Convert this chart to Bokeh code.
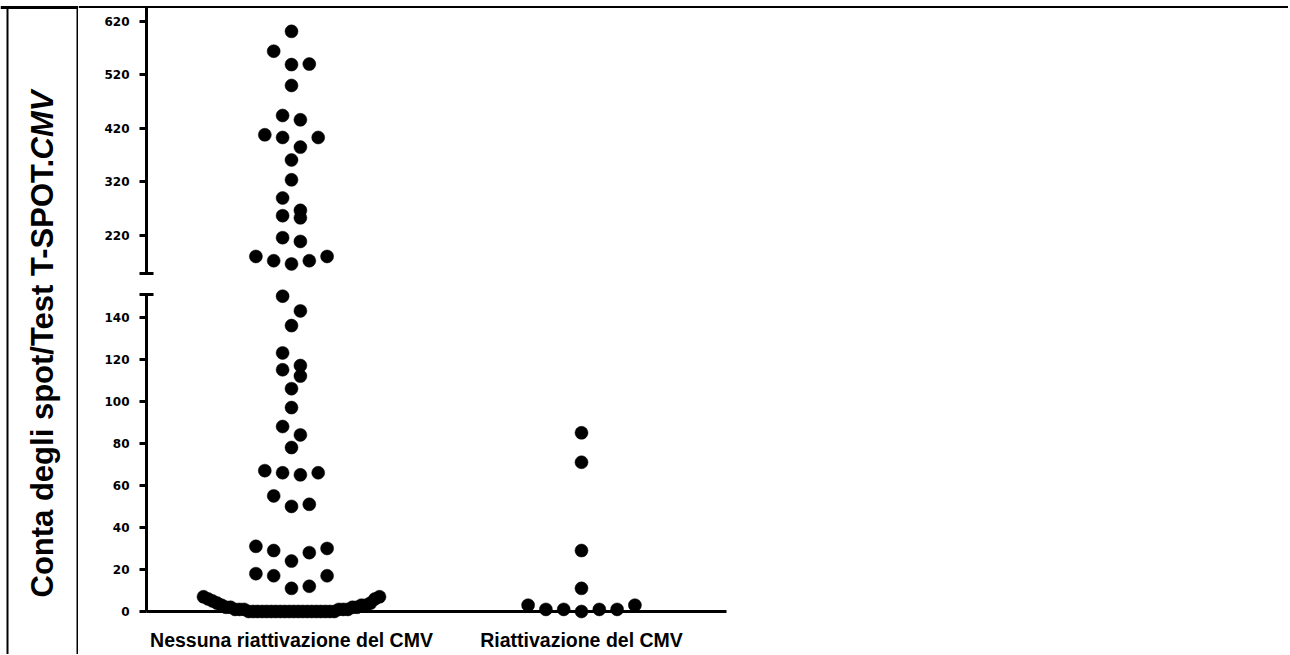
import math
from bokeh.plotting import figure
from bokeh.models import (Range1d, LinearAxis, FixedTicker, Span, Label,
                          ColumnDataSource, BoxAnnotation)
from bokeh.layouts import row, column
from bokeh.embed import file_html
from bokeh.resources import INLINE

# ---------------- data ----------------
CATEGORIES = ["Nessuna riattivazione del CMV", "Riattivazione del CMV"]

NO_REACTIVATION = [
    601, 564, 540, 539, 500, 444, 436, 408, 403, 403, 385, 361, 324, 290,
    267, 257, 253, 216, 209, 181, 181, 173, 173, 167,
    150, 143, 136, 123, 117, 115, 112, 106, 97, 88, 84, 78, 67, 66, 66, 65,
    55, 51, 50, 31, 30, 29, 28, 24, 18, 17, 17, 12, 11,
    7, 7, 6, 6, 5, 4, 4, 3, 3, 3, 2, 2, 2, 2, 1, 1, 1, 1, 1, 1,
    0, 0, 0, 0, 0, 0, 0, 0, 0, 0, 0, 0, 0, 0, 0, 0, 0, 0, 0, 0,
]
REACTIVATION = [85, 71, 29, 11, 3, 3, 1, 1, 1, 1, 0]

Y_TICKS_LOW = [0, 20, 40, 60, 80, 100, 120, 140]
Y_TICKS_HIGH = [220, 320, 420, 520, 620]
LOW_MAX = 150          # values above this are drawn in the upper segment
LOW_SEG_END = 151      # broken-axis segment ends
HIGH_SEG_START = 149
HIGH_SEG_END = 648

Y_LABEL_MAIN = "Conta degli spot/Test T-SPOT."
Y_LABEL_ITALIC = "CMV"

# ---------------- layout ----------------
LABEL_W = 78
CHART_W = 1210
TOTAL_H = 654
UP_H = 283
LO_H = TOTAL_H - UP_H

X_RANGE = (0.26552, 4.43793)
UP_RANGE = (130.5, 658.6)
LO_RANGE = (-20.46, 156.04)

X_PPU = CHART_W / (X_RANGE[1] - X_RANGE[0])
UP_PPU = UP_H / (UP_RANGE[1] - UP_RANGE[0])
LO_PPU = LO_H / (LO_RANGE[1] - LO_RANGE[0])

DOT = 13
STEP_PX = 17.8
BIN_PX = 16
MAX_HALF_PX = 88


def seg(v):
    return v > LOW_MAX


def px(v):
    return v * (UP_PPU if seg(v) else LO_PPU)


def swarm(values, center):
    vals = sorted(values, reverse=True)
    xs, ys = [], []
    i = 0
    while i < len(vals):
        j = i + 1
        while (j < len(vals) and seg(vals[j]) == seg(vals[i])
               and px(vals[i]) - px(vals[j]) < BIN_PX):
            j += 1
        grp = vals[i:j]
        n = len(grp)
        step = STEP_PX if n < 2 else min(STEP_PX, 2 * MAX_HALF_PX / (n - 1))
        slots = [(k - (n - 1) / 2) * step for k in range(n)]
        order = []
        lo, hi = 0, n - 1
        while lo <= hi:
            order.append(lo)
            if hi != lo:
                order.append(hi)
            lo += 1
            hi -= 1
        for v, s in zip(grp, order):
            xs.append(center + slots[s] / X_PPU)
            ys.append(v)
        i = j
    return xs, ys


x1, y1 = swarm(NO_REACTIVATION, 1)
x2, y2 = swarm(REACTIVATION, 2)
xs = x1 + x2
ys = y1 + y2

up_src = ColumnDataSource(dict(x=[x for x, y in zip(xs, ys) if seg(y)],
                               y=[y for y in ys if seg(y)]))
lo_src = ColumnDataSource(dict(x=[x for x, y in zip(xs, ys) if not seg(y)],
                               y=[y for y in ys if not seg(y)]))

TICK_FONT = "DejaVu Sans"


def base_fig(w, h, xr, yr):
    p = figure(width=w, height=h, x_range=Range1d(*xr), y_range=Range1d(*yr),
               x_axis_type=None, y_axis_type=None, toolbar_location=None,
               output_backend="svg", min_border=0)
    p.outline_line_color = None
    p.background_fill_color = "white"
    p.border_fill_color = "white"
    return p


def style_y(ax):
    ax.axis_line_width = 3
    ax.major_tick_line_width = 3
    ax.major_tick_out = 7
    ax.major_tick_in = 0
    ax.minor_tick_line_color = None
    ax.major_label_text_font = TICK_FONT
    ax.major_label_text_font_style = "bold"
    ax.major_label_text_font_size = "12px"
    ax.major_label_text_color = "black"
    ax.major_label_standoff = 10


def cap_axis(loc):
    cap = LinearAxis(fixed_location=0.5, ticker=FixedTicker(ticks=[loc]),
                     major_label_overrides={loc: ""})
    cap.axis_line_color = None
    cap.major_tick_in = 7
    cap.major_tick_out = 7
    cap.major_tick_line_width = 3
    cap.minor_tick_line_color = None
    return cap


TOP_LINE = TOTAL_H - 7   # border line position inside the label cell

# ---- label cell ----
L = base_fig(LABEL_W, TOTAL_H, (0, LABEL_W), (0, TOTAL_H))
L.add_layout(BoxAnnotation(left=7, right=77, top=TOP_LINE, bottom=-30,
                           fill_color=None, fill_alpha=0,
                           line_color="black", line_alpha=1.0, line_width=2))
L.add_layout(Span(location=TOP_LINE, dimension="width", line_color="black",
                  line_alpha=1.0, line_width=3))
LBL_SIZE = 31
main_w = 14.13 * LBL_SIZE
L.add_layout(Label(x=42, y=57, text=Y_LABEL_MAIN, angle=math.pi / 2,
                   text_font="Liberation Sans", text_font_style="bold",
                   text_font_size=f"{LBL_SIZE}px", text_align="left",
                   text_baseline="alphabetic", text_color="black"))
L.add_layout(Label(x=42, y=57 + main_w, text=Y_LABEL_ITALIC, angle=math.pi / 2,
                   text_font="Liberation Sans", text_font_style="bold italic",
                   text_font_size=f"{LBL_SIZE}px", text_align="left",
                   text_baseline="alphabetic", text_color="black"))

# ---- upper segment ----
U = base_fig(CHART_W, UP_H, X_RANGE, UP_RANGE)
U.add_layout(Span(location=UP_RANGE[1] - 6.5 / UP_PPU, dimension="width",
                  line_color="black", line_width=2))
yu = LinearAxis(fixed_location=0.5, ticker=FixedTicker(ticks=Y_TICKS_HIGH),
                bounds=(HIGH_SEG_START, HIGH_SEG_END))
style_y(yu)
U.add_layout(yu, "left")
U.add_layout(cap_axis(HIGH_SEG_START), "left")
U.scatter("x", "y", source=up_src, size=DOT, fill_color="black", line_color="black", line_width=0.5)

# ---- lower segment ----
D = base_fig(CHART_W, LO_H, X_RANGE, LO_RANGE)
yl = LinearAxis(fixed_location=0.5, ticker=FixedTicker(ticks=Y_TICKS_LOW),
                bounds=(0, LOW_SEG_END))
style_y(yl)
D.add_layout(yl, "left")
D.add_layout(cap_axis(LOW_SEG_END), "left")
xa = LinearAxis(fixed_location=0, ticker=FixedTicker(ticks=[1, 2]), bounds=(0.5, 2.5),
                major_label_overrides={1: CATEGORIES[0], 2: CATEGORIES[1]})
xa.axis_line_width = 3
xa.major_tick_out = 5
xa.major_tick_in = 0
xa.major_tick_line_width = 2
xa.minor_tick_line_color = None
xa.major_label_text_font = "Liberation Sans"
xa.major_label_text_font_style = "bold"
xa.major_label_text_font_size = "19.5px"
xa.major_label_text_color = "black"
xa.major_label_standoff = 13
D.add_layout(xa, "below")
D.scatter("x", "y", source=lo_src, size=DOT, fill_color="black", line_color="black", line_width=0.5)

layout = row(L, column(U, D, spacing=0), spacing=0)
open("out.html", "w").write(file_html(layout, INLINE))
